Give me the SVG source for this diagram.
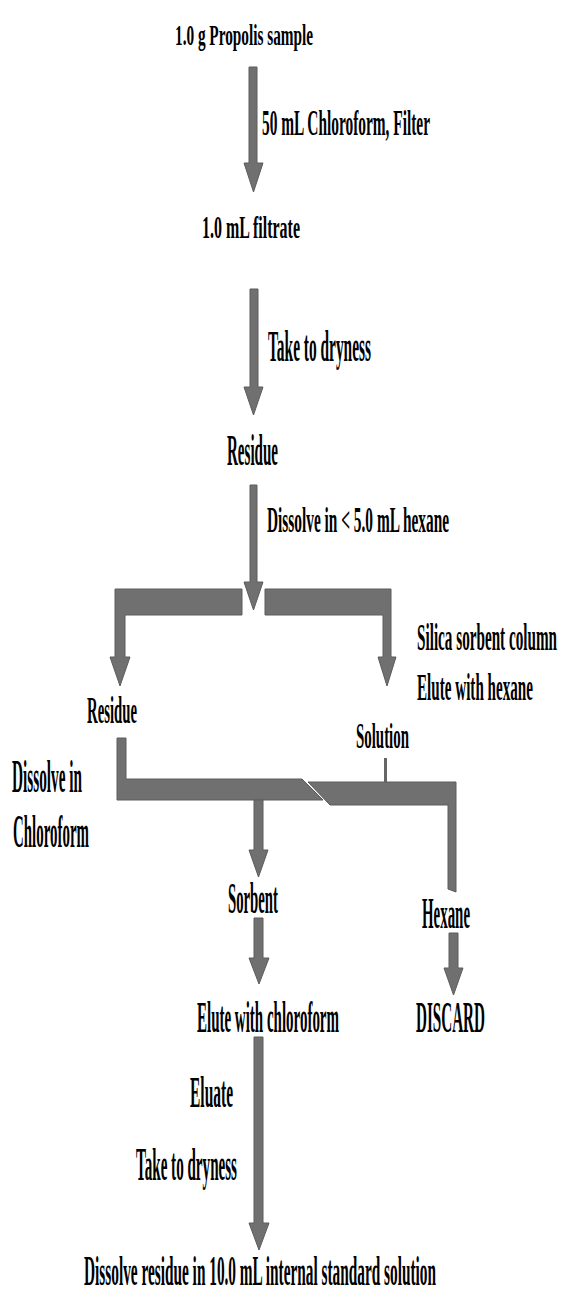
<svg xmlns="http://www.w3.org/2000/svg" width="561" height="1292" viewBox="0 0 561 1292">
<style>
.t{font-family:"Liberation Serif","Times New Roman",serif;font-weight:bold;fill:#000;}
.c{fill:#707070;stroke:#5c5c5c;stroke-width:1;stroke-linejoin:miter;}
.ln{stroke:#666;stroke-width:3;fill:none;}
</style>
<rect width="561" height="1292" fill="#fff"/>
<g id="connectors">
<polygon class="c" points="249,67 257,67 257,163 263,163 253.5,192 244,163 249,163"/>
<polygon class="c" points="250,289 258,289 258,387 263,387 253.5,415 244,387 250,387"/>
<polygon class="c" points="250,485 257,485 257,582 263,582 253.5,610 244,582 250,582"/>
<polygon class="c" points="115,589 242,589 242,615 125,615 125,657 130,657 120,686 110,657 115,657"/>
<polygon class="c" points="265,589 391,589 391,657 396,657 387,686 378,657 383,657 383,615 265,615"/>
<polygon class="c" points="308,782 456,782 456,892 448,889 448,805 330,805"/>
<polygon class="c" points="117,738 126,738 126,779 302,779 323,800 117,800"/>
<line class="ln" x1="385.5" y1="758" x2="385.5" y2="782"/>
<polygon class="c" points="254,800 263,800 263,850 268,850 258.5,877 249,850 254,850"/>
<polygon class="c" points="254,918 263,918 263,958 269,958 259,984 249,958 254,958"/>
<polygon class="c" points="449,933 458,933 458,968 463,968 453.5,995 444,968 449,968"/>
<polygon class="c" points="254,1037 263,1037 263,1223 269,1223 259,1250 249,1223 254,1223"/>
</g>
<g id="n-propolis"><text class="t" transform="translate(175,45) scale(0.508,1)" font-size="30" textLength="271.7" lengthAdjust="spacingAndGlyphs">1.0 g Propolis sample</text></g>
<g id="l-chloroform-filter"><text class="t" transform="translate(262,135) scale(0.436,1)" font-size="35" textLength="385.3" lengthAdjust="spacingAndGlyphs">50 mL Chloroform, Filter</text></g>
<g id="n-filtrate"><text class="t" transform="translate(202,238) scale(0.495,1)" font-size="32" textLength="198" lengthAdjust="spacingAndGlyphs">1.0 mL filtrate</text></g>
<g id="l-dryness1"><text class="t" transform="translate(268,361) scale(0.338,1)" font-size="45" textLength="304.7" lengthAdjust="spacingAndGlyphs">Take to dryness</text></g>
<g id="n-residue1"><text class="t" transform="translate(227,465) scale(0.334,1)" font-size="45" textLength="152.7" lengthAdjust="spacingAndGlyphs">Residue</text></g>
<g id="l-hexane"><text class="t" transform="translate(267,532) scale(0.437,1)" font-size="35" textLength="416.5" lengthAdjust="spacingAndGlyphs">Dissolve in &lt; 5.0 mL hexane</text></g>
<g id="l-silica"><text class="t" transform="translate(417,650) scale(0.41,1)" font-size="37" textLength="341.5" lengthAdjust="spacingAndGlyphs">Silica sorbent column</text>
<text class="t" transform="translate(417,700) scale(0.409,1)" font-size="37" textLength="283.6" lengthAdjust="spacingAndGlyphs">Elute with hexane</text></g>
<g id="n-residue2"><text class="t" transform="translate(87,723) scale(0.399,1)" font-size="37" textLength="125.3" lengthAdjust="spacingAndGlyphs">Residue</text></g>
<g id="n-solution"><text class="t" transform="translate(356,748) scale(0.426,1)" font-size="35" textLength="124.4" lengthAdjust="spacingAndGlyphs">Solution</text></g>
<g id="l-dissolve-chloroform"><text class="t" transform="translate(12,792) scale(0.332,1)" font-size="46" textLength="210.8" lengthAdjust="spacingAndGlyphs">Dissolve in</text>
<text class="t" transform="translate(13,847) scale(0.323,1)" font-size="46" textLength="235.3" lengthAdjust="spacingAndGlyphs">Chloroform</text></g>
<g id="n-sorbent"><text class="t" transform="translate(228,913) scale(0.328,1)" font-size="45" textLength="152.4" lengthAdjust="spacingAndGlyphs">Sorbent</text></g>
<g id="n-hexane"><text class="t" transform="translate(422,928) scale(0.331,1)" font-size="45" textLength="145" lengthAdjust="spacingAndGlyphs">Hexane</text></g>
<g id="n-elute"><text class="t" transform="translate(197,1032) scale(0.332,1)" font-size="45" textLength="427.7" lengthAdjust="spacingAndGlyphs">Elute with chloroform</text></g>
<g id="n-discard"><text class="t" transform="translate(416,1032) scale(0.337,1)" font-size="45" textLength="204.7" lengthAdjust="spacingAndGlyphs">DISCARD</text></g>
<g id="l-eluate"><text class="t" transform="translate(190,1107) scale(0.344,1)" font-size="45" textLength="125" lengthAdjust="spacingAndGlyphs">Eluate</text></g>
<g id="l-dryness2"><text class="t" transform="translate(136,1180) scale(0.324,1)" font-size="46" textLength="311.7" lengthAdjust="spacingAndGlyphs">Take to dryness</text></g>
<g id="n-final"><text class="t" transform="translate(84,1285) scale(0.3635,1)" font-size="42" textLength="968.4" lengthAdjust="spacingAndGlyphs">Dissolve residue in 10.0 mL internal standard solution</text></g>
</svg>
